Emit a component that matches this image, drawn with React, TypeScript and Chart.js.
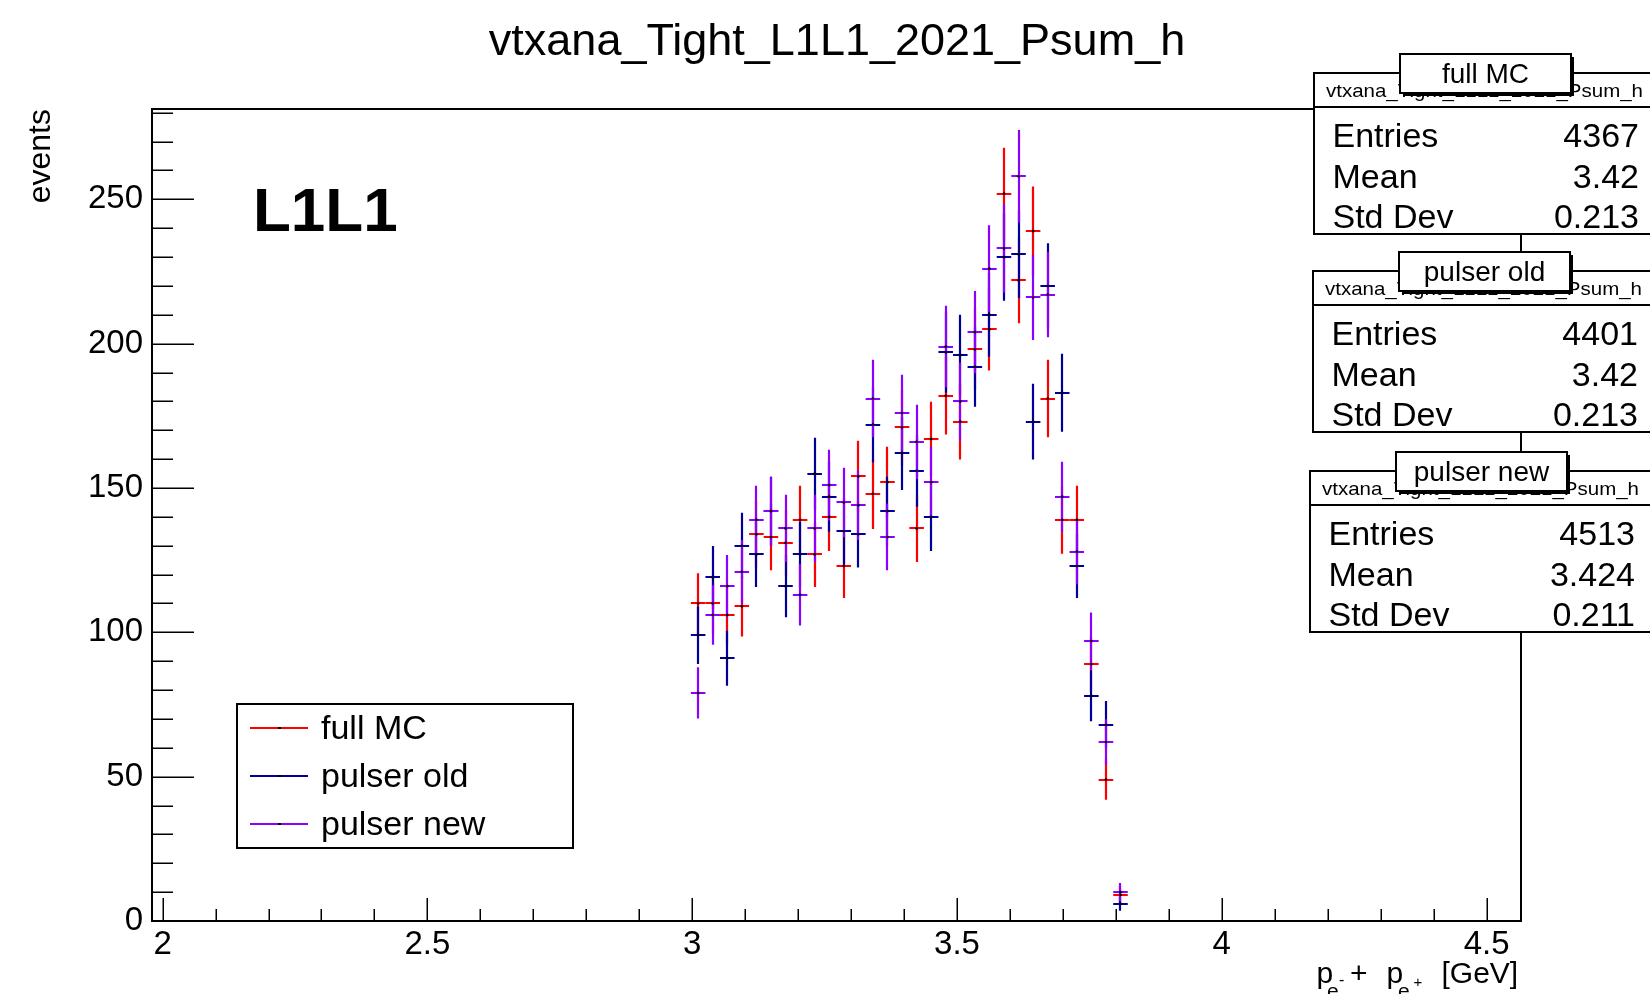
import React, { useEffect, useRef } from 'react';
import { Chart, registerables } from 'chart.js';

Chart.register(...registerables);

// ---------------- data ----------------
const histName = 'vtxana_Tight_L1L1_2021_Psum_h';
const binCenters = [
  3.01125, 3.03875, 3.06625, 3.09375, 3.12125, 3.14875, 3.17625, 3.20375, 3.23125, 3.25875,
  3.28625, 3.31375, 3.34125, 3.36875, 3.39625, 3.42375, 3.45125, 3.47875, 3.50625, 3.53375,
  3.56125, 3.58875, 3.61625, 3.64375, 3.67125, 3.69875, 3.72625, 3.75375, 3.78125, 3.80875,
];
const binWidth = 0.0275;
const fullMC = [
  110, 110, 106, 109, 134, 133, 131, 139, 127, 140,
  123, 154, 148, 152, 171, 136, 167, 182, 173, 198,
  205, 252, 222, 239, 181, 139, 139, 89, 49, 9,
];
const pulserOld = [
  99, 119, 91, 130, 127, 142, 116, 127, 155, 147,
  135, 134, 172, 142, 162, 156, 140, 197, 196, 192,
  210, 230, 231, 173, 220, 183, 123, 78, 68, 6,
];
const pulserNew = [
  79, 106, 116, 121, 139, 142, 136, 113, 136, 151,
  145, 144, 181, 133, 176, 166, 152, 199, 180, 204,
  226, 233, 258, 216, 217, 147, 128, 97, 62, 10,
];
const seriesNames = ['full MC', 'pulser old', 'pulser new'];
const seriesValues = [fullMC, pulserOld, pulserNew];
const statEntries = ['4367', '4401', '4513'];
const statMeans = ['3.42', '3.42', '3.424'];
const statStdDevs = ['0.213', '0.213', '0.211'];
const xTickValues = [2, 2.5, 3, 3.5, 4, 4.5];
const yTickValues = [0, 50, 100, 150, 200, 250];
const X_MIN = 1.98;
const X_MAX = 4.565;
const Y_MIN = 0;
const Y_MAX = 281.3;

// ---------------- styles / layout ----------------
const FONT = '"Liberation Sans", Arial, Helvetica, sans-serif';
const seriesColors = ['#ff0000', '#000099', '#8c00ff'];
const statBoxLayout = [
  { left: 1314, top: 73 },
  { left: 1313, top: 271 },
  { left: 1310, top: 471 },
];

const rootPlugin = {
  id: 'rootStyle',
  beforeDatasetsDraw(chart: any) {
    const { ctx, scales } = chart;
    const x = scales.x;
    const y = scales.y;
    ctx.save();
    chart.data.datasets.forEach((ds: any) => {
      ctx.strokeStyle = ds.borderColor;
      ctx.lineWidth = 2.2;
      ds.data.forEach((p: any) => {
        const err = Math.sqrt(p.y);
        const px = Math.round(x.getPixelForValue(p.x));
        const py = Math.round(y.getPixelForValue(p.y));
        const top = y.getPixelForValue(p.y + err);
        const bot = y.getPixelForValue(Math.max(0, p.y - err));
        const xl = x.getPixelForValue(p.x - binWidth / 2);
        const xr = x.getPixelForValue(p.x + binWidth / 2);
        ctx.beginPath();
        ctx.moveTo(px, top);
        ctx.lineTo(px, bot);
        ctx.moveTo(xl, py);
        ctx.lineTo(xr, py);
        ctx.stroke();
      });
    });
    ctx.restore();
  },
  afterDraw(chart: any) {
    const { ctx, chartArea, scales } = chart;
    const x = scales.x;
    const y = scales.y;
    const { left, right, top, bottom } = chartArea;
    ctx.save();

    // frame
    ctx.strokeStyle = '#000';
    ctx.lineWidth = 2;
    ctx.strokeRect(left, top, right - left, bottom - top);

    // y ticks (inside)
    ctx.lineWidth = 1.5;
    ctx.beginPath();
    for (let k = 0; k * 10 <= Y_MAX; k++) {
      const v = k * 10;
      const py = Math.round(y.getPixelForValue(v)) + 0.25;
      const len = v % 50 === 0 ? 42 : 21;
      ctx.moveTo(left, py);
      ctx.lineTo(left + len, py);
    }
    // x ticks (inside)
    for (let k = 20; k / 10 <= X_MAX; k++) {
      const px = Math.round(x.getPixelForValue(k / 10)) + 0.25;
      const len = k % 5 === 0 ? 23 : 12;
      ctx.moveTo(px, bottom);
      ctx.lineTo(px, bottom - len);
    }
    ctx.stroke();

    // title
    ctx.fillStyle = '#000';
    ctx.textAlign = 'center';
    ctx.textBaseline = 'alphabetic';
    ctx.font = `45px ${FONT}`;
    ctx.fillText(histName, 837, 55);

    // y title
    ctx.save();
    ctx.translate(50, top);
    ctx.rotate(-Math.PI / 2);
    ctx.textAlign = 'right';
    ctx.font = `32px ${FONT}`;
    ctx.fillText('events', 0, 0);
    ctx.restore();

    // x title: p_{e^-} + p_{e^+} [GeV]
    ctx.textAlign = 'left';
    const parts: [string, number, number, number][] = [
      ['p', 30, 1316.5, 983],
      ['e', 21, 1327, 998],
      ['-', 16, 1339, 985],
      ['+', 30, 1350, 983],
      ['p', 30, 1386.5, 983],
      ['e', 21, 1398, 998],
      ['+', 15, 1413.5, 987],
      ['[GeV]', 30, 1441.5, 983],
    ];
    parts.forEach(([t, s, px, py]) => {
      ctx.font = `${s}px ${FONT}`;
      ctx.fillText(t, px, py);
    });

    // L1L1 label
    ctx.font = `bold 62px ${FONT}`;
    ctx.fillText('L1L1', 253, 231);

    // legend
    ctx.fillStyle = '#fff';
    ctx.fillRect(237, 704, 336, 144);
    ctx.strokeStyle = '#000';
    ctx.lineWidth = 2;
    ctx.strokeRect(237, 704, 336, 144);
    const legY = [728, 776, 824];
    seriesNames.forEach((name, i) => {
      ctx.strokeStyle = seriesColors[i];
      ctx.lineWidth = 2;
      ctx.beginPath();
      ctx.moveTo(250, legY[i]);
      ctx.lineTo(308, legY[i]);
      ctx.stroke();
      ctx.fillStyle = '#000';
      ctx.fillRect(278, legY[i] - 1, 3, 2);
      ctx.font = `34px ${FONT}`;
      ctx.textAlign = 'left';
      ctx.fillText(name, 321, legY[i] + 11);
    });

    // stat boxes
    statBoxLayout.forEach((b, i) => {
      const W = 345;
      const H = 161;
      ctx.fillStyle = '#fff';
      ctx.fillRect(b.left, b.top, W, H);
      ctx.strokeStyle = '#000';
      ctx.lineWidth = 2;
      ctx.strokeRect(b.left, b.top, W, H);
      ctx.beginPath();
      ctx.moveTo(b.left, b.top + 34);
      ctx.lineTo(b.left + W, b.top + 34);
      ctx.stroke();

      // header name (stretched)
      ctx.fillStyle = '#000';
      ctx.textAlign = 'left';
      ctx.font = `19px ${FONT}`;
      const w = ctx.measureText(histName).width;
      ctx.save();
      ctx.translate(b.left + 12, b.top + 24);
      ctx.scale(317 / w, 1);
      ctx.fillText(histName, 0, 0);
      ctx.restore();

      // rows
      ctx.font = `34px ${FONT}`;
      const rows: [string, string][] = [
        ['Entries', statEntries[i]],
        ['Mean', statMeans[i]],
        ['Std Dev', statStdDevs[i]],
      ];
      const rowY = [74, 114.5, 155];
      rows.forEach(([lab, val], r) => {
        ctx.textAlign = 'left';
        ctx.fillText(lab, b.left + 18.5, b.top + rowY[r]);
        ctx.textAlign = 'right';
        ctx.fillText(val, b.left + 325, b.top + rowY[r]);
      });

      // label box with shadow
      const lx = b.left + 86;
      const ly = b.top - 19;
      ctx.fillStyle = '#000';
      ctx.fillRect(lx + 3, ly + 3, 171, 39);
      ctx.fillStyle = '#fff';
      ctx.fillRect(lx, ly, 171, 39);
      ctx.strokeStyle = '#000';
      ctx.lineWidth = 2;
      ctx.strokeRect(lx, ly, 171, 39);
      ctx.fillStyle = '#000';
      ctx.textAlign = 'center';
      ctx.font = `28px ${FONT}`;
      ctx.fillText(seriesNames[i], lx + 85.5, ly + 29);
    });

    ctx.restore();
  },
};

export default function App() {
  const ref = useRef<HTMLCanvasElement>(null);

  useEffect(() => {
    document.body.style.margin = '0';
    document.body.style.overflow = 'hidden';
    const canvas = ref.current;
    if (!canvas) return;

    const datasets = seriesValues.map((vals, i) => ({
      label: seriesNames[i],
      data: vals.map((v, j) => ({ x: binCenters[j], y: v })),
      borderColor: seriesColors[i],
      backgroundColor: '#000',
      showLine: false,
      pointRadius: 1.3,
      pointBorderWidth: 0,
      pointBackgroundColor: '#000',
    }));

    const chart = new Chart(canvas, {
      type: 'scatter',
      data: { datasets },
      plugins: [rootPlugin],
      options: {
        animation: false,
        responsive: false,
        devicePixelRatio: 1,
        events: [],
        layout: { padding: { top: 109, right: 129, left: 0, bottom: 0 } },
        plugins: {
          legend: { display: false },
          tooltip: { enabled: false },
          title: { display: false },
        },
        scales: {
          x: {
            type: 'linear',
            position: 'bottom',
            min: X_MIN,
            max: X_MAX,
            grid: { display: false, drawTicks: false },
            border: { display: false },
            afterBuildTicks: (s: any) => {
              s.ticks = xTickValues.map((v) => ({ value: v }));
            },
            afterFit: (s: any) => {
              s.height = 73;
            },
            ticks: {
              color: '#000',
              font: { family: FONT, size: 33 },
              padding: 4,
              maxRotation: 0,
              minRotation: 0,
              autoSkip: false,
              callback: (v: any) => String(v),
            },
          },
          y: {
            type: 'linear',
            position: 'left',
            min: Y_MIN,
            max: Y_MAX,
            grid: { display: false, drawTicks: false },
            border: { display: false },
            afterBuildTicks: (s: any) => {
              s.ticks = yTickValues.map((v) => ({ value: v }));
            },
            afterFit: (s: any) => {
              s.width = 152;
            },
            ticks: {
              color: '#000',
              font: { family: FONT, size: 33 },
              padding: 9,
              autoSkip: false,
              callback: (v: any) => String(v),
            },
          },
        },
      },
    } as any);

    return () => chart.destroy();
  }, []);

  return (
    <div style={{ width: 1650, height: 994, background: '#fff' }}>
      <canvas ref={ref} width={1650} height={994} style={{ display: 'block', width: 1650, height: 994 }} />
    </div>
  );
}
